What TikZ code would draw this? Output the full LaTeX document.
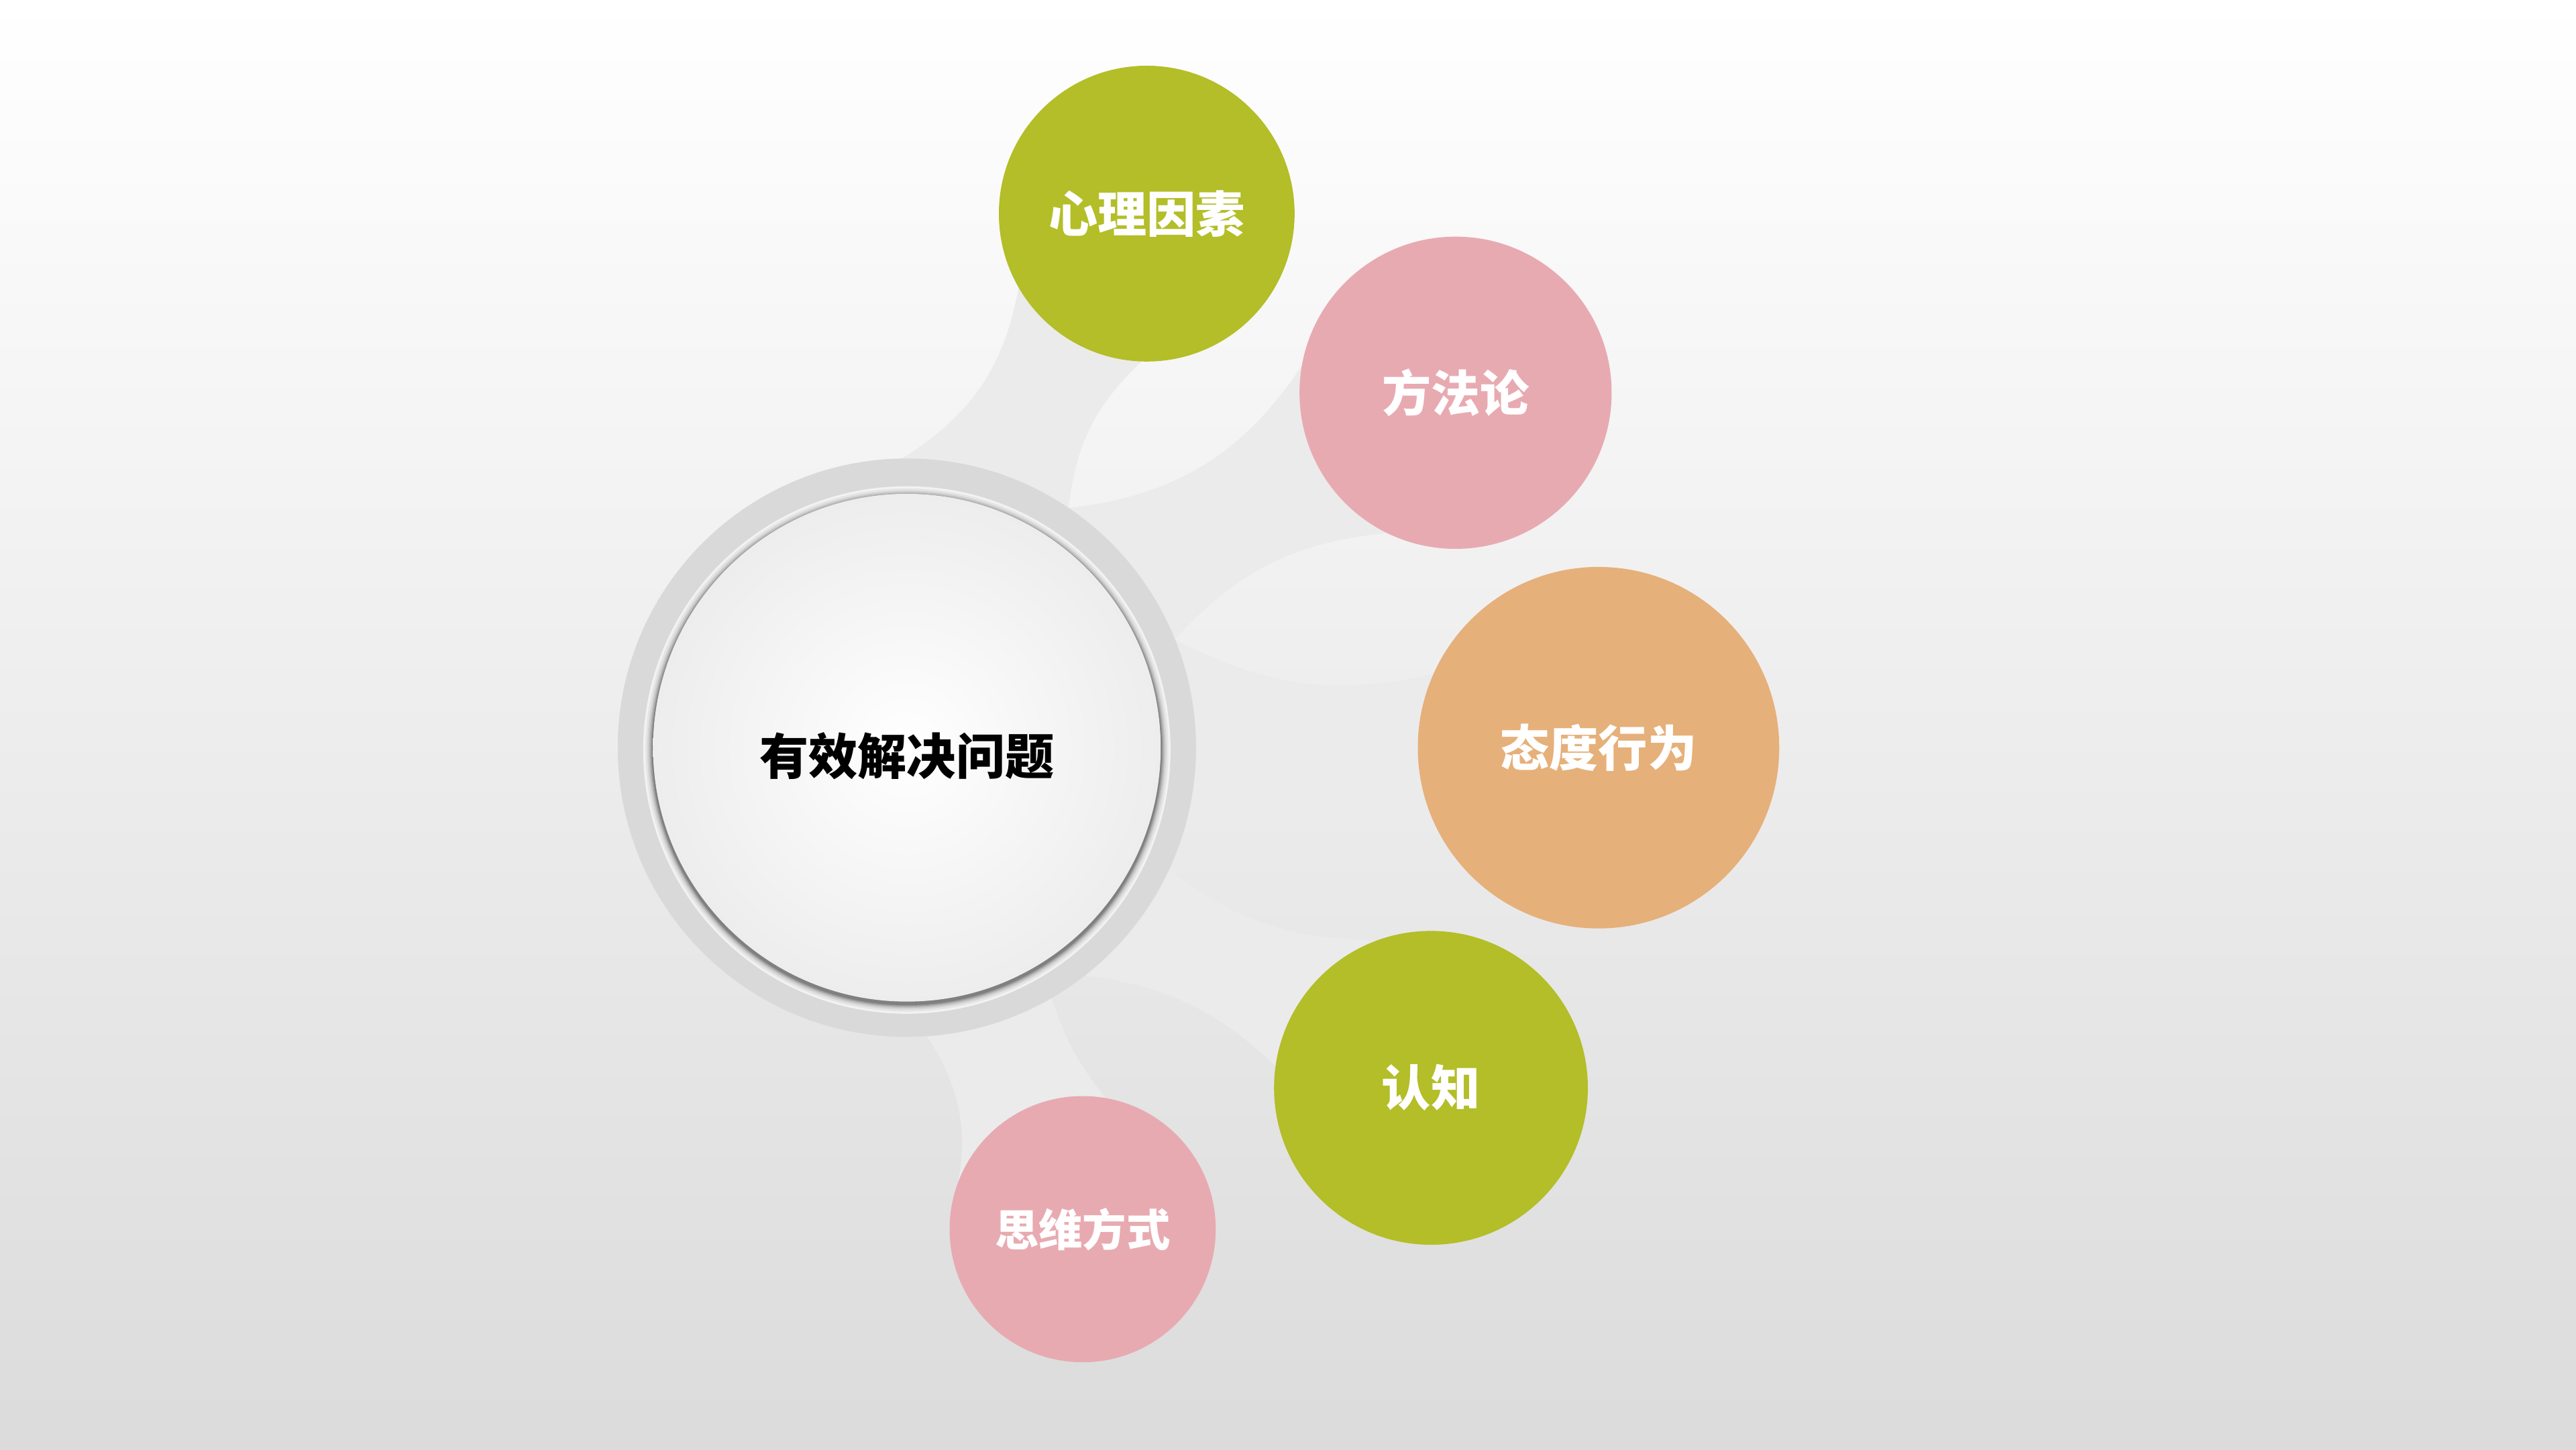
\documentclass[tikz,border=0pt]{standalone}
\usepackage{fontspec}
\newfontfamily\cjk{Noto Sans CJK SC}
\usetikzlibrary{backgrounds}

\definecolor{leaf}{HTML}{B3BE28}
\definecolor{rose}{HTML}{E8AAB1}
\definecolor{apricot}{HTML}{E6B07A}
\definecolor{bridge}{HTML}{EBEBEB}
\definecolor{rim}{HTML}{D9D9D9}

\begin{document}
\begin{tikzpicture}[
    bubble/.style={circle, inner sep=0pt, outer sep=0pt, text=white,
        font=\cjk\bfseries\fontsize{8.5}{10}\selectfont},
    link/.style={fill=bridge}
  ]

    \node[circle, inner sep=0pt, outer sep=0pt, fill=rim, minimum size=3.52cm] (core) at (5.52,4.27) {};

    \foreach \r/\k in {1.605/5, 1.592/10, 1.580/17, 1.570/26, 1.561/38, 1.553/50}
        \fill[black!\k] ([yshift=-0.4pt]core) circle (\r);
    \node[circle, inner sep=0pt, minimum size=3.09cm, inner color=white, outer color=black!7] (face) at (core) {};
    \node[font=\cjk\bfseries\fontsize{8.5}{10}\selectfont] (title) at (5.52,4.22) {有效解决问题};

    \node[bubble, fill=leaf, minimum size=1.80cm] (xinli) at (6.98,7.52) {心理因素};
    \node[bubble, fill=rose, minimum size=1.90cm] (fangfa) at (8.86,6.43) {方法论};
    \node[bubble, fill=apricot, minimum size=2.20cm] (taidu) at (9.73,4.27) {态度行为};
    \node[bubble, fill=leaf, minimum size=1.91cm] (renzhi) at (8.71,2.20) {认知};
    \node[bubble, fill=rose, minimum size=1.62cm, font=\cjk\bfseries\fontsize{7.6}{9}\selectfont] (siwei) at (6.59,1.34) {思维方式};

    \begin{pgfonlayer}{background}
    \shade[top color=white, middle color=black!4, bottom color=black!14] (0,0) rectangle (15.68,8.82);

    \fill[link] (core.91) to[bend right=24] (xinli.210) -- (xinli.center)
        -- (xinli.268) to[bend right=20] (core.56) -- (core.center) -- cycle;
    \fill[link] (core.56) to[bend right=25] (fangfa.170) -- (fangfa.center)
        -- (fangfa.244) to[bend right=21] (core.22) -- (core.center) -- cycle;
    \fill[link] (core.22) to[bend right=20] (taidu.156) -- (taidu.center)
        -- (taidu.205) to[bend right=20] (core.-15) -- (core.center) -- cycle;
    \fill[link] (core.-25) to[bend right=18] (renzhi.110) -- (renzhi.center)
        -- (renzhi.172) to[bend right=18] (core.-52) -- (core.center) -- cycle;
    \fill[link] (core.-60) to[bend right=10] (siwei.80) -- (siwei.center)
        -- (siwei.171) to[bend right=25] (core.-86) -- (core.center) -- cycle;
    \end{pgfonlayer}
  \end{tikzpicture}
\end{document}
